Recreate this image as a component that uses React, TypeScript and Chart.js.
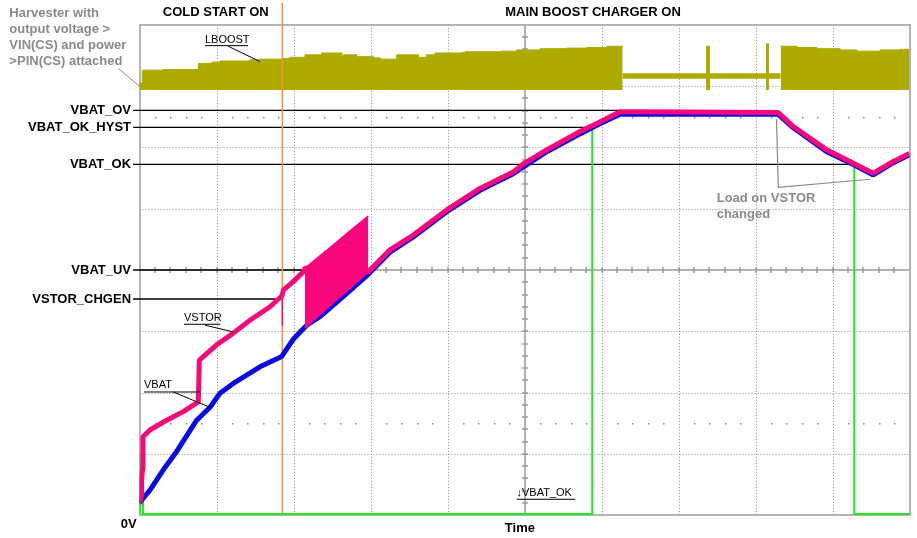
import React, { useEffect, useRef } from 'react';
import { Chart, registerables } from 'chart.js';

Chart.register(...registerables);

const W = 917;
const H = 538;

// All values are in oscilloscope divisions (x: 10 time divisions, y: 8 voltage divisions)

// LBOOST switching node envelope (each level holds until the next x)
const lboostX = [0, 0.036, 0.309, 0.764, 0.938, 1.045, 1.435, 1.565, 1.847, 1.955, 2.149, 2.366, 2.626, 2.647, 2.821, 3.036, 3.123, 3.34, 3.621, 3.73, 3.838, 4.184, 4.227, 4.422, 4.682, 4.899, 5.201, 5.548, 5.808, 6.068, 6.275, 7.357, 7.409, 8.136, 8.175, 8.327, 8.535, 8.795, 9.097, 9.314, 9.617, 9.877, 10];
const lboostTop = [7.05, 7.26, 7.27, 7.37, 7.39, 7.41, 7.43, 7.44, 7.45, 7.47, 7.51, 7.54, 7.48, 7.51, 7.48, 7.46, 7.44, 7.51, 7.47, 7.51, 7.54, 7.55, 7.56, 7.56, 7.57, 7.59, 7.61, 7.62, 7.63, 7.65, 7.2, 7.65, 7.2, 7.69, 7.2, 7.65, 7.63, 7.61, 7.59, 7.57, 7.59, 7.6, 7.6];
const lboostBottom = [6.94, 6.94, 6.94, 6.94, 6.94, 6.94, 6.94, 6.94, 6.94, 6.94, 6.93, 6.93, 6.93, 6.93, 6.93, 6.93, 6.93, 6.93, 6.93, 6.93, 6.93, 6.93, 6.93, 6.93, 6.93, 6.93, 6.93, 6.93, 6.93, 6.93, 7.12, 6.93, 7.12, 6.95, 7.12, 6.93, 6.93, 6.93, 6.93, 6.93, 6.93, 6.93, 6.93];
const lboostIdleBottom = 7.12;
const lboostActiveBottom = 6.935;

// VSTOR trace
const vstorX = [0, 0.02, 0.026, 0.04, 0.045, 0.136, 0.353, 0.569, 0.764, 0.777, 1.003, 1.218, 1.435, 1.695, 1.851, 1.868, 1.997, 2.127, 2.149, 2.971, 2.994, 3.253, 3.556, 3.99, 4.422, 4.854, 4.997, 5.288, 5.721, 5.938, 6.24, 6.5, 8.296, 8.491, 8.925, 9.27, 9.53, 9.79, 10];
const vstorY = [0.2, 0.3, 0.57, 0.74, 1.28, 1.39, 1.55, 1.69, 1.85, 2.53, 2.78, 2.97, 3.18, 3.4, 3.58, 3.67, 3.81, 3.97, 4.03, 3.97, 4.0, 4.33, 4.57, 4.98, 5.33, 5.6, 5.74, 5.96, 6.26, 6.39, 6.58, 6.58, 6.57, 6.34, 5.96, 5.74, 5.58, 5.77, 5.9];
const vstorSpikeX = [1.855, 1.855];
const vstorSpikeY = [3.58, 3.09];
const vstorSawX = [2.149, 2.344, 2.539, 2.734, 2.971];
const vstorSawTop = [4.03, 4.23, 4.43, 4.64, 4.88];
const vstorSawBottom = [3.05, 3.27, 3.49, 3.7, 3.97];

// VBAT trace
const vbatX = [0, 0.03, 0.136, 0.309, 0.483, 0.743, 0.916, 1.045, 1.218, 1.565, 1.847, 1.997, 2.171, 2.344, 2.604, 2.971, 3.253, 3.556, 3.99, 4.422, 4.854, 5.288, 5.721, 5.938, 6.24, 8.296, 8.491, 8.925, 9.27, 9.53, 9.79, 10];
const vbatY = [0.2, 0.25, 0.41, 0.74, 1.04, 1.55, 1.76, 1.99, 2.15, 2.42, 2.59, 2.87, 3.1, 3.24, 3.52, 3.93, 4.29, 4.54, 4.95, 5.3, 5.57, 5.93, 6.22, 6.36, 6.54, 6.54, 6.32, 5.93, 5.72, 5.55, 5.75, 5.88];

// VBAT_OK digital output
const vbatOkX = [0, 0.006, 0.013, 0.02, 0.026, 0.04, 0.045, 5.88, 5.88, 5.94, 6.24, 8.296, 8.49, 8.925, 9.283, 9.283, 10];
const vbatOkY = [0.02, 0.33, 0.98, 0.38, 0.74, 0.25, 0.02, 0.02, 6.32, 6.38, 6.58, 6.58, 6.35, 5.98, 5.74, 0.02, 0.02];

// Threshold levels
const thresholdNames = ['VBAT_OV', 'VBAT_OK_HYST', 'VBAT_OK', 'VBAT_UV', 'VSTOR_CHGEN'];
const thresholdLevels = [6.605, 6.328, 5.724, 4.0, 3.527];
const thresholdEnds = [6.25, 5.95, 9.27, 2.98, 1.84];
const thresholdStart = -0.084;

// Cold start end marker
const coldStartEnd = 1.855;

const headerLabels = ['COLD START ON', 'MAIN BOOST CHARGER ON'];
const headerCenters = [0.99, 5.89];
const harvesterNote = ['Harvester with', 'output voltage >', 'VIN(CS) and power', '>PIN(CS) attached'];
const loadNote = ['Load on VSTOR', 'changed'];

const pts = (xs: number[], ys: number[]) => xs.map((x, i) => ({ x, y: ys[i] }));
// step-hold top edge, keeping only intervals whose bottom matches the wanted kind
const bandPts = (idle: boolean) => {
  const out: { x: number; y: number | null }[] = [];
  for (let i = 0; i < lboostX.length - 1; i++) {
    const isIdle = lboostBottom[i] > 7;
    if (isIdle === idle) {
      out.push({ x: lboostX[i], y: lboostTop[i] });
      out.push({ x: lboostX[i + 1], y: lboostTop[i] });
    } else {
      out.push({ x: (lboostX[i] + lboostX[i + 1]) / 2, y: null });
    }
  }
  return out;
};

const BOLD = 'bold 13px "Liberation Sans", Arial, sans-serif';
const SMALL = '11px "Liberation Sans", Arial, sans-serif';

const scopeGrid = {
  id: 'scopeGrid',
  beforeDatasetsDraw(chart: any) {
    const { ctx, chartArea: a, scales } = chart;
    const x = scales.x;
    const y = scales.y;
    const al = (v: number) => Math.round(v) + 0.5;
    ctx.save();
    ctx.lineWidth = 1;
    ctx.strokeStyle = '#8a8a8a';
    ctx.setLineDash([1, 2]);
    for (let i = 1; i < 10; i++) {
      if (i === 5) continue;
      const px = al(x.getPixelForValue(i));
      ctx.beginPath();
      ctx.moveTo(px, a.top);
      ctx.lineTo(px, a.bottom);
      ctx.stroke();
    }
    for (let j = 1; j < 8; j++) {
      if (j === 4) continue;
      const py = al(y.getPixelForValue(j));
      ctx.beginPath();
      ctx.moveTo(a.left, py);
      ctx.lineTo(a.right, py);
      ctx.stroke();
    }
    ctx.setLineDash([]);
    ctx.fillStyle = '#8a8a8a';
    for (const row of [1.5, 6.5]) {
      const py = Math.round(y.getPixelForValue(row));
      for (let k = 1; k < 50; k++) {
        if (k % 5 === 0) continue;
        const px = Math.round(x.getPixelForValue(k * 0.2));
        ctx.fillRect(px, py, 1.5, 1.5);
      }
    }
    // center axes with minor ticks
    ctx.strokeStyle = '#999999';
    ctx.lineWidth = 1.5;
    const cx = Math.round(x.getPixelForValue(5));
    const cy = Math.round(y.getPixelForValue(4));
    ctx.beginPath();
    ctx.moveTo(cx, a.top);
    ctx.lineTo(cx, a.bottom);
    ctx.moveTo(a.left, cy);
    ctx.lineTo(a.right, cy);
    for (let k = 1; k < 50; k++) {
      const px = Math.round(x.getPixelForValue(k * 0.2));
      ctx.moveTo(px, cy - 3);
      ctx.lineTo(px, cy + 3);
    }
    for (let k = 1; k < 40; k++) {
      const py = Math.round(y.getPixelForValue(k * 0.2));
      ctx.moveTo(cx - 3, py);
      ctx.lineTo(cx + 3, py);
    }
    ctx.stroke();
    // frame
    ctx.strokeStyle = '#9c9c9c';
    ctx.lineWidth = 1.5;
    ctx.strokeRect(Math.round(a.left), Math.round(a.top), Math.round(a.right) - Math.round(a.left), Math.round(a.bottom) - Math.round(a.top));
    ctx.restore();
  },
};

const scopeNotes = {
  id: 'scopeNotes',
  afterDatasetsDraw(chart: any) {
    const { ctx, scales } = chart;
    const X = (v: number) => scales.x.getPixelForValue(v);
    const Y = (v: number) => scales.y.getPixelForValue(v);
    const line = (pts: number[][], color: string, w = 1) => {
      ctx.strokeStyle = color;
      ctx.lineWidth = w;
      ctx.beginPath();
      pts.forEach(([a, b], i) => (i === 0 ? ctx.moveTo(X(a), Y(b)) : ctx.lineTo(X(a), Y(b))));
      ctx.stroke();
    };
    ctx.save();
    ctx.textBaseline = 'middle';

    // headers
    ctx.font = BOLD;
    ctx.fillStyle = '#000';
    ctx.textAlign = 'center';
    headerLabels.forEach((t, i) => ctx.fillText(t, X(headerCenters[i]), Y(8.2)));

    // threshold labels
    ctx.textAlign = 'right';
    thresholdNames.forEach((t, i) => ctx.fillText(t, X(-0.11), Y(thresholdLevels[i]) + 0.5));

    // axis labels
    ctx.textAlign = 'center';
    ctx.fillText('Time', X(4.94), Y(-0.214));
    ctx.fillText('0V', X(-0.14), Y(-0.144));

    // grey notes
    ctx.fillStyle = '#8a8a8a';
    ctx.textAlign = 'left';
    const hy = [8.18, 7.92, 7.665, 7.41];
    harvesterNote.forEach((t, i) => ctx.fillText(t, X(-1.69), Y(hy[i])));
    line([[-0.275, 7.29], [0.006, 6.99]], '#8a8a8a', 1);
    ctx.fillStyle = '#8a8a8a';
    ctx.fillText(loadNote[0], X(7.496), Y(5.17));
    ctx.fillText(loadNote[1], X(7.496), Y(4.91));
    line([[8.273, 6.46], [8.296, 5.35], [9.49, 5.48]], '#8a8a8a', 1.2);

    // small trace labels
    ctx.font = SMALL;
    ctx.fillStyle = '#000';
    ctx.fillText('LBOOST', X(0.85), Y(7.75));
    line([[0.85, 7.66], [1.41, 7.66]], '#000', 1);
    line([[1.153, 7.65], [1.565, 7.4]], '#000', 1);

    ctx.fillText('VSTOR', X(0.578), Y(3.21));
    line([[0.578, 3.115], [1.05, 3.115]], '#000', 1);
    line([[0.85, 3.1], [1.218, 2.99]], '#000', 1);

    ctx.fillText('VBAT', X(0.058), Y(2.12));
    line([[0.058, 2.01], [0.78, 2.01]], '#000', 1);
    line([[0.439, 2.01], [0.916, 1.76]], '#000', 1);

    ctx.fillText('\u2193VBAT_OK', X(4.896), Y(0.36));
    line([[4.896, 0.26], [5.66, 0.26]], '#000', 1);

    ctx.restore();
  },
};

export default function App() {
  const ref = useRef<HTMLCanvasElement | null>(null);

  useEffect(() => {
    if (!ref.current) return;
    const PINK = '#f8087b';
    const BLUE = '#0a0ae8';
    const GREEN = '#1ee81e';
    const OLIVE = '#adab00';
    const ORANGE = '#f39139';

    const thresholdSets = thresholdNames.map((n, i) => ({
      label: n,
      data: [
        { x: thresholdStart, y: thresholdLevels[i] },
        { x: thresholdEnds[i], y: thresholdLevels[i] },
      ],
      borderColor: '#000',
      borderWidth: 1.3,
      clip: false,
      order: 4,
    }));

    const chart = new Chart(ref.current, {
      type: 'line',
      data: {
        datasets: [
          { label: 'VSTOR', data: pts(vstorX, vstorY), borderColor: PINK, borderWidth: 5, borderJoinStyle: 'bevel', order: 0 },
          { label: 'VSTOR spike', data: pts(vstorSpikeX, vstorSpikeY), borderColor: PINK, borderWidth: 1.5, order: 0 },
          { label: 'VSTOR saw top', data: pts(vstorSawX, vstorSawTop), borderColor: PINK, borderWidth: 1.5, backgroundColor: PINK, fill: '+1', order: 0 },
          { label: 'VSTOR saw bottom', data: pts(vstorSawX, vstorSawBottom), borderColor: PINK, borderWidth: 1.5, order: 0 },
          { label: 'VBAT', data: pts(vbatX, vbatY), borderColor: BLUE, borderWidth: 5, borderJoinStyle: 'bevel', order: 1 },
          { label: 'VBAT_OK', data: pts(vbatOkX, vbatOkY), borderColor: GREEN, borderWidth: 2, order: 2 },
          { label: 'Cold start end', data: [{ x: coldStartEnd, y: 0 }, { x: coldStartEnd, y: 8.36 }], borderColor: ORANGE, borderWidth: 1.5, clip: false, order: 3 },
          ...thresholdSets,
          { label: 'LBOOST switching', data: bandPts(false), borderColor: OLIVE, backgroundColor: OLIVE, borderWidth: 1, spanGaps: false, fill: { target: { value: lboostActiveBottom } }, order: 5 },
          { label: 'LBOOST idle', data: bandPts(true), borderColor: OLIVE, backgroundColor: OLIVE, borderWidth: 1, spanGaps: false, fill: { target: { value: lboostIdleBottom } }, order: 5 },
        ] as any,
      },
      options: {
        responsive: false,
        animation: false,
        devicePixelRatio: 1,
        events: [],
        layout: { padding: { left: 139.5, right: 7.5, top: 24.8, bottom: 22.8 } },
        elements: { point: { radius: 0 }, line: { tension: 0 } },
        scales: {
          x: { type: 'linear', min: 0, max: 10, display: false },
          y: { type: 'linear', min: 0, max: 8, display: false },
        },
        plugins: { legend: { display: false }, tooltip: { enabled: false } },
      } as any,
      plugins: [scopeGrid, scopeNotes],
    });
    return () => chart.destroy();
  }, []);

  return (
    <div style={{ position: 'absolute', left: 0, top: 0, width: W, height: H, background: '#fff' }}>
      <canvas ref={ref} width={W} height={H} style={{ display: 'block', width: W, height: H }} />
    </div>
  );
}
